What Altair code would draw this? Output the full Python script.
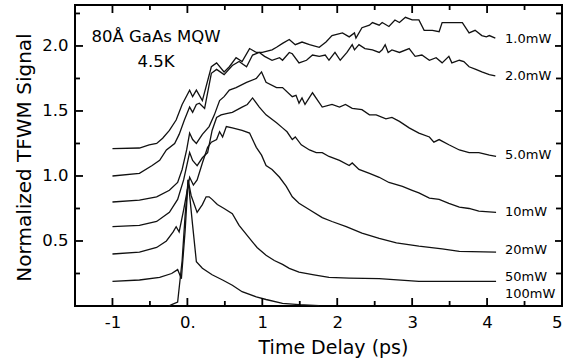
import altair as alt
import pandas as pd

# ---------------- data ----------------
series_names = ["1.0mW", "2.0mW", "5.0mW", "10mW", "20mW", "50mW", "100mW"]

t_1mw = [-1.0, -0.64, -0.51, -0.41, -0.33, -0.24, -0.15, -0.07, 0.03, 0.07, 0.12, 0.2, 0.32, 0.39,
         0.49, 0.56, 0.65, 0.73, 0.83, 0.92, 1.0, 1.13, 1.19, 1.27, 1.36, 1.44, 1.53, 1.63, 1.76,
         1.85, 1.93, 2.07, 2.16, 2.23, 2.25, 2.33, 2.43, 2.47, 2.56, 2.6, 2.69, 2.77, 2.83, 2.91,
         3.0, 3.09, 3.16, 3.27, 3.36, 3.4, 3.57, 3.67, 3.76, 3.84, 3.93, 3.99, 4.03, 4.11]
s_1mw = [1.21, 1.215, 1.24, 1.25, 1.29, 1.35, 1.43, 1.55, 1.66, 1.61, 1.66, 1.58, 1.84, 1.87,
         1.8, 1.84, 1.91, 1.88, 1.98, 1.95, 1.95, 1.97, 1.99, 2.02, 2.05, 2.01, 2.03, 2.01, 1.99,
         2.03, 2.08, 2.1, 2.07, 2.1, 2.06, 2.14, 2.16, 2.18, 2.16, 2.18, 2.15, 2.2, 2.18, 2.22,
         2.2, 2.2, 2.12, 2.12, 2.11, 2.18, 2.18, 2.18, 2.1, 2.12, 2.08, 2.07, 2.08, 2.06]

t_2mw = [-1.0, -0.64, -0.47, -0.37, -0.28, -0.17, -0.11, -0.04, 0.03, 0.07, 0.12, 0.16, 0.23, 0.32,
         0.39, 0.49, 0.6, 0.69, 0.79, 0.87, 0.96, 1.03, 1.13, 1.23, 1.27, 1.36, 1.4, 1.49, 1.59,
         1.67, 1.76, 1.84, 1.89, 1.97, 2.04, 2.13, 2.2, 2.23, 2.29, 2.37, 2.47, 2.56, 2.6, 2.64,
         2.68, 2.73, 2.83, 2.96, 3.04, 3.13, 3.23, 3.32, 3.4, 3.49, 3.53, 3.63, 3.69, 3.76, 3.85,
         3.93, 4.03, 4.11]
s_2mw = [1.0, 1.02, 1.08, 1.12, 1.2, 1.25, 1.32, 1.43, 1.53, 1.49, 1.55, 1.56, 1.52, 1.79,
         1.82, 1.78, 1.85, 1.88, 1.84, 1.93, 1.95, 1.92, 1.89, 1.91, 1.89, 1.95, 1.94, 1.87, 1.89,
         1.93, 1.92, 1.93, 1.89, 1.95, 1.89, 1.95, 2.01, 1.97, 2.01, 1.98, 1.97, 1.95, 1.97, 2.01,
         1.95, 1.97, 1.95, 1.98, 1.92, 1.93, 1.89, 1.91, 1.87, 1.92, 1.87, 1.89, 1.88, 1.84, 1.82,
         1.8, 1.78, 1.77]

t_5mw = [-1.0, -0.64, -0.41, -0.24, -0.13, -0.07, -0.01, 0.03, 0.07, 0.12, 0.2, 0.29, 0.36, 0.43,
         0.49, 0.56, 0.65, 0.79, 0.92, 0.99, 1.05, 1.19, 1.27, 1.4, 1.45, 1.49, 1.53, 1.57, 1.67,
         1.8, 1.93, 2.03, 2.11, 2.2, 2.33, 2.43, 2.52, 2.65, 2.73, 2.83, 2.96, 3.09, 3.23, 3.29,
         3.36, 3.49, 3.63, 3.76, 3.89, 4.03, 4.12]
s_5mw = [0.8, 0.815, 0.84, 0.89, 0.95, 1.05, 1.2, 1.33, 1.28, 1.25, 1.32, 1.38, 1.47, 1.58,
         1.61, 1.66, 1.68, 1.72, 1.75, 1.8, 1.72, 1.68, 1.68, 1.61, 1.62, 1.56, 1.6, 1.55, 1.64,
         1.53, 1.55, 1.53, 1.55, 1.52, 1.51, 1.47, 1.47, 1.44, 1.45, 1.42, 1.37, 1.33, 1.3, 1.26,
         1.28, 1.24, 1.2, 1.18, 1.18, 1.16, 1.15]

t_10mw = [-1.0, -0.64, -0.41, -0.24, -0.13, -0.05, 0.03, 0.07, 0.13, 0.2, 0.27, 0.33, 0.39, 0.45,
          0.52, 0.6, 0.73, 0.8, 0.87, 0.96, 1.05, 1.19, 1.27, 1.33, 1.4, 1.44, 1.52, 1.63, 1.72,
          1.8, 1.89, 2.03, 2.16, 2.2, 2.29, 2.43, 2.56, 2.69, 2.87, 3.0, 3.09, 3.23, 3.36, 3.49,
          3.63, 3.76, 3.89, 4.12]
s_10mw = [0.61, 0.62, 0.65, 0.72, 0.82, 0.97, 1.18, 1.12, 1.08, 1.14, 1.18, 1.35, 1.45, 1.47,
          1.48, 1.49, 1.53, 1.55, 1.6, 1.53, 1.47, 1.41, 1.37, 1.34, 1.28, 1.3, 1.24, 1.2, 1.18,
          1.18, 1.15, 1.12, 1.08, 1.1, 1.05, 1.02, 0.99, 0.95, 0.92, 0.89, 0.87, 0.83, 0.82, 0.79,
          0.76, 0.75, 0.73, 0.72]

t_20mw = [-1.0, -0.64, -0.41, -0.28, -0.19, -0.15, -0.11, -0.05, 0.03, 0.08, 0.13, 0.2, 0.27, 0.32,
          0.39, 0.43, 0.47, 0.52, 0.6, 0.73, 0.83, 0.92, 0.99, 1.05, 1.13, 1.23, 1.32, 1.4, 1.49,
          1.63, 1.8, 1.93, 2.12, 2.33, 2.56, 2.79, 3.09, 3.4, 3.63, 4.12]
s_20mw = [0.4, 0.415, 0.45, 0.5, 0.57, 0.61, 0.57, 0.74, 0.99, 0.93, 0.97, 1.1, 1.22, 1.26,
          1.28, 1.34, 1.3, 1.38, 1.37, 1.35, 1.33, 1.22, 1.16, 1.08, 1.05, 0.99, 0.92, 0.84, 0.79,
          0.74, 0.68, 0.65, 0.61, 0.56, 0.52, 0.485, 0.46, 0.44, 0.42, 0.415]

t_50mw = [-1.0, -0.64, -0.37, -0.21, -0.13, -0.08, -0.03, 0.01, 0.05, 0.13, 0.2, 0.25, 0.29, 0.33,
          0.4, 0.49, 0.6, 0.69, 0.83, 0.93, 1.05, 1.16, 1.27, 1.36, 1.49, 1.69, 1.89, 2.16, 2.56,
          3.09, 4.12]
s_50mw = [0.19, 0.2, 0.22, 0.25, 0.28, 0.21, 0.58, 0.97, 0.85, 0.72, 0.78, 0.84, 0.84, 0.82,
          0.78, 0.75, 0.71, 0.62, 0.52, 0.45, 0.39, 0.35, 0.32, 0.29, 0.26, 0.24, 0.22, 0.215, 0.21,
          0.19, 0.19]

t_100mw = [-0.25, -0.21, -0.13, -0.07, -0.03, 0.01, 0.07, 0.12, 0.2, 0.33, 0.47, 0.6, 0.73, 0.92,
           1.05, 1.27, 1.49, 1.76]
s_100mw = [0.0, 0.01, 0.03, 0.35, 0.7, 0.97, 0.62, 0.34, 0.29, 0.24, 0.2, 0.16, 0.11, 0.07,
           0.05, 0.02, 0.01, 0.003]

label_y = [2.05, 1.77, 1.16, 0.72, 0.43, 0.22, 0.09]

x_ticks = [-1, 0, 1, 2, 3, 4, 5]
x_minor = [-0.5, 0.5, 1.5, 2.5, 3.5, 4.5]
y_ticks = [0.5, 1.0, 1.5, 2.0]
y_minor = [0.25, 0.75, 1.25, 1.75, 2.25]

notes = ["80Å GaAs MQW", "4.5K"]

# ---------------- build tables ----------------
all_t = [t_1mw, t_2mw, t_5mw, t_10mw, t_20mw, t_50mw, t_100mw]
all_s = [s_1mw, s_2mw, s_5mw, s_10mw, s_20mw, s_50mw, s_100mw]
rows = []
for name, ts, ss in zip(series_names, all_t, all_s):
    for t, s in zip(ts, ss):
        rows.append({"series": name, "t": t, "s": s})
curves = pd.DataFrame(rows)

labels = pd.DataFrame({"series": series_names, "t": [4.24] * len(series_names), "s": label_y})
note_df = pd.DataFrame({"txt": notes, "t": [-1.28, -0.667], "s": [2.03, 1.84]})

W, H = 487, 301
FONT = "DejaVu Sans"
xs = alt.Scale(domain=[-1.5, 5], nice=False, zero=False)
ys = alt.Scale(domain=[0, 2.315], nice=False, zero=False)

x_axis = alt.Axis(values=x_ticks, ticks=False, domain=False, grid=False,
                  labelExpr="datum.value == 0 ? '0.' : (datum.value < 0 ? '-' + abs(datum.value) : '' + datum.value)",
                  labelFont=FONT, labelFontSize=16.5, labelPadding=8, labelColor="black",
                  title="Time Delay (ps)", titleFont=FONT, titleFontSize=19, titleFontWeight="normal",
                  titleColor="black", titleX=258, titleY=47, titleBaseline="alphabetic", titleAlign="center")
y_axis = alt.Axis(values=y_ticks, ticks=False, domain=False, grid=False, format=".1f",
                  labelFont=FONT, labelFontSize=16.5, labelPadding=7, labelColor="black",
                  title="Normalized TFWM Signal", titleFont=FONT, titleFontSize=20,
                  titleFontWeight="normal", titleColor="black", titleAngle=270,
                  titleX=-45, titleY=152, titleBaseline="alphabetic", titleAlign="center")

lines = alt.Chart(curves).mark_line(color="#111111", strokeWidth=1.3).encode(
    x=alt.X("t:Q", scale=xs, axis=x_axis),
    y=alt.Y("s:Q", scale=ys, axis=y_axis),
    detail="series:N",
    order="t:Q",
)

lab = alt.Chart(labels).mark_text(align="left", baseline="middle", font=FONT, fontSize=13,
                                  color="black").encode(
    x=alt.X("t:Q", scale=xs), y=alt.Y("s:Q", scale=ys), text="series:N")

note = alt.Chart(note_df).mark_text(align="left", baseline="alphabetic", font=FONT, fontSize=16.5,
                                    color="black").encode(
    x=alt.X("t:Q", scale=xs), y=alt.Y("s:Q", scale=ys), text="txt:N")

# inward ticks on all four sides
xmaj = pd.DataFrame({"t": x_ticks})
xmin = pd.DataFrame({"t": x_minor})
ymaj = pd.DataFrame({"s": y_ticks})
ymin = pd.DataFrame({"s": y_minor})
tk = dict(color="black", strokeWidth=1.8)
ticks = [
    alt.Chart(xmaj).mark_rule(**tk).encode(x=alt.X("t:Q", scale=xs), y=alt.value(H), y2=alt.value(H - 8)),
    alt.Chart(xmin).mark_rule(**tk).encode(x=alt.X("t:Q", scale=xs), y=alt.value(H), y2=alt.value(H - 5)),
    alt.Chart(xmaj).mark_rule(**tk).encode(x=alt.X("t:Q", scale=xs), y=alt.value(0), y2=alt.value(8)),
    alt.Chart(xmin).mark_rule(**tk).encode(x=alt.X("t:Q", scale=xs), y=alt.value(0), y2=alt.value(5)),
    alt.Chart(ymaj).mark_rule(**tk).encode(y=alt.Y("s:Q", scale=ys), x=alt.value(0), x2=alt.value(8)),
    alt.Chart(ymin).mark_rule(**tk).encode(y=alt.Y("s:Q", scale=ys), x=alt.value(0), x2=alt.value(5)),
    alt.Chart(ymaj).mark_rule(**tk).encode(y=alt.Y("s:Q", scale=ys), x=alt.value(W), x2=alt.value(W - 7)),
    alt.Chart(ymin).mark_rule(**tk).encode(y=alt.Y("s:Q", scale=ys), x=alt.value(W), x2=alt.value(W - 6)),
]

chart = alt.layer(lines, lab, note, *ticks).properties(
    width=W, height=H,
    autosize=alt.AutoSizeParams(type="none"),
    padding={"left": 75, "top": 5, "right": 4, "bottom": 58},
    background="white",
).configure_view(stroke="black", strokeWidth=2)

chart.save("out.html", embed_options={"renderer": "svg", "actions": False})
